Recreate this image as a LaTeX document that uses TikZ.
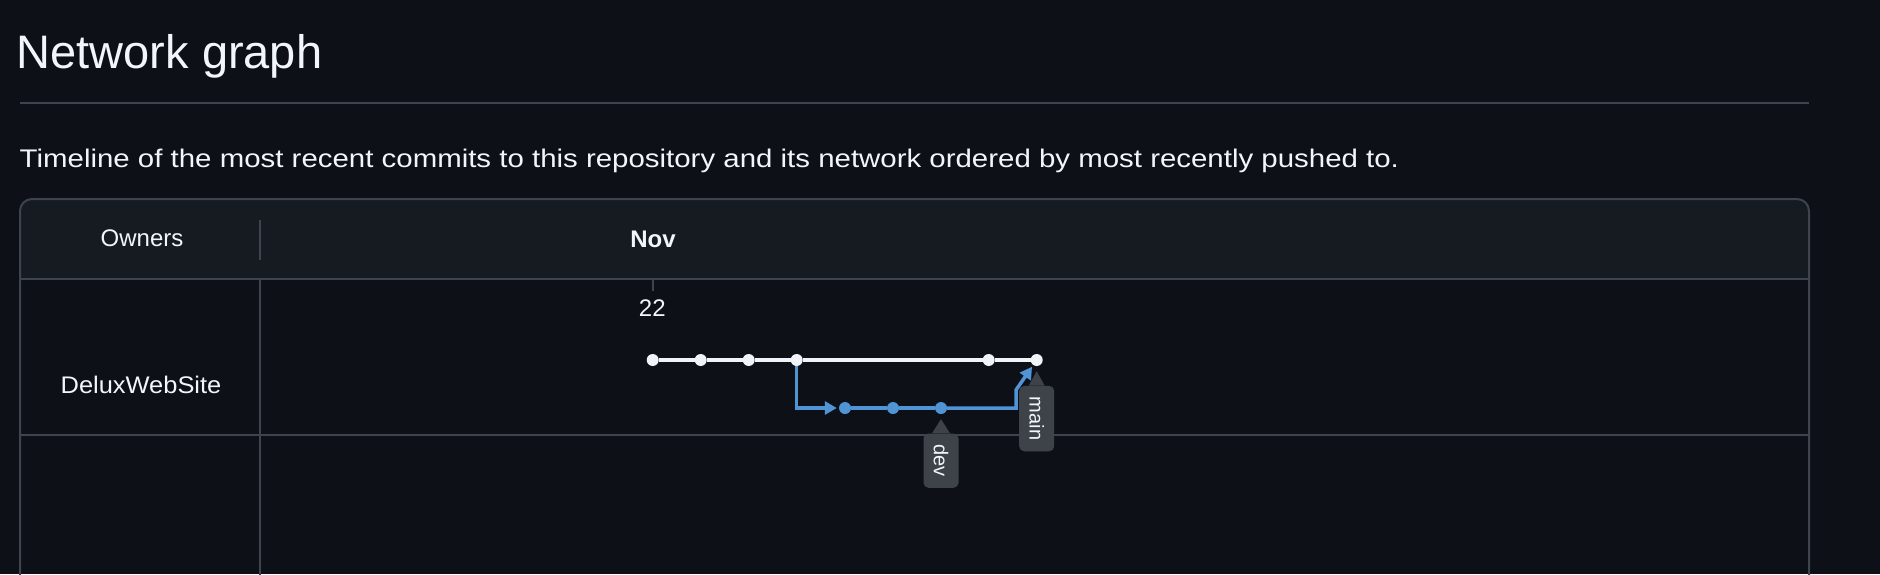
\documentclass[tikz,border=0pt]{standalone}
\usepackage{fontspec}
\setmainfont{Liberation Sans}
\usetikzlibrary{arrows.meta}
\definecolor{pagebg}{RGB}{13,17,23}
\definecolor{headbg}{RGB}{22,27,34}
\definecolor{rulec}{RGB}{61,68,77}
\definecolor{fgc}{RGB}{240,246,252}
\definecolor{trunkc}{RGB}{240,244,248}
\definecolor{branchc}{RGB}{80,148,214}
\definecolor{tagc}{RGB}{62,67,74}

\begin{document}
\begin{tikzpicture}[x=1pt,y=-1pt,
    grid/.style={draw=rulec, line width=2pt},
    txt/.style={text=fgc, inner sep=0pt, font=\fontsize{24}{28}\selectfont},
    commit/.style={circle, fill=trunkc, inner sep=0pt, minimum size=12pt},
    devcommit/.style={commit, fill=branchc},
    trunk/.style={draw=trunkc, line width=3.5pt},
    branch/.style={draw=branchc, line width=3.5pt},
    tip/.style={-{Triangle[length=12pt,width=13pt]}, shorten >=2pt},
    tag/.style={fill=tagc, rounded corners=5pt, rotate=-90, text=fgc,
      font=\fontsize{20}{24}\selectfont, minimum height=35pt, inner xsep=11pt, inner ysep=0pt}]
        \useasboundingbox (0,0) rectangle (1880,574);
        \fill[pagebg] (0,0) rectangle (1880,574);
        \clip (0,0) rectangle (1880,574);
        \node[txt, font=\fontsize{47}{56}\selectfont, anchor=base west] (title) at (16.5,68.3) {Network graph};
        \draw[grid] (20,103) -- (1809,103);
        \node[txt, font=\fontsize{25.5}{30}\selectfont, anchor=base west, xscale=1.154] (intro) at (19.5,167.5) {Timeline of the most recent commits to this repository and its network ordered by most recently pushed to.};
        \fill[headbg, rounded corners=12pt] (20,279) -- (20,199) -- (1809,199) -- (1809,279);
        \draw[grid, rounded corners=12pt] (20,600) -- (20,199) -- (1809,199) -- (1809,600);
        \draw[grid] (20,279) -- (1809,279);
        \draw[grid] (20,434.5) -- (1809,434.5);
        \draw[grid] (260,279) -- (260,600);
        \draw[grid] (260,220) -- (260,260);
        \node[txt, anchor=base] (owners) at (142,246) {Owners};
        \node[txt, anchor=base, font=\fontsize{24}{28}\selectfont\bfseries] (month) at (653,247) {Nov};
        \draw[grid] (653.3,279) -- (653.3,291);
        \node[txt, anchor=base] (day) at (652.3,316.7) {22};
        \node[txt, anchor=base, xscale=1.06] (owner) at (141,393.3) {DeluxWebSite};
        \node[commit] (c1) at (652.7,360) {};
        \node[commit] (c2) at (700.7,360) {};
        \node[commit] (c3) at (748.7,360) {};
        \node[commit] (c4) at (796.7,360) {};
        \node[commit] (c5) at (988.7,360) {};
        \node[commit] (c6) at (1036.7,360) {};
        \node[devcommit] (d1) at (845,408) {};
        \node[devcommit] (d2) at (893,408) {};
        \node[devcommit] (d3) at (941,408) {};
        \coordinate (mergeup) at (1016,390);
        \draw[trunk] (c1) -- (c2) -- (c3) -- (c4) -- (c5) -- (c6);
        \draw[branch, tip] (c4) |- (d1);
        \draw[branch] (d1) -- (d2) -- (d3);
        \draw[branch, tip] (d3) -| (mergeup) -- (c6);
        \node[tag, anchor=west] (devtag) at ([yshift=-25.3pt]d3.center) {dev};
        \fill[tagc] ([xshift=-9pt]devtag.west) -- ([yshift=-5pt]d3.south) -- ([xshift=9pt]devtag.west) -- cycle;
        \node[tag, anchor=west] (maintag) at ([yshift=-25.7pt]c6.center) {main};
        \fill[tagc] ([xshift=-8pt]maintag.west) -- ([yshift=-5pt]c6.south) -- ([xshift=8pt]maintag.west) -- cycle;
      \end{tikzpicture}
\end{document}
